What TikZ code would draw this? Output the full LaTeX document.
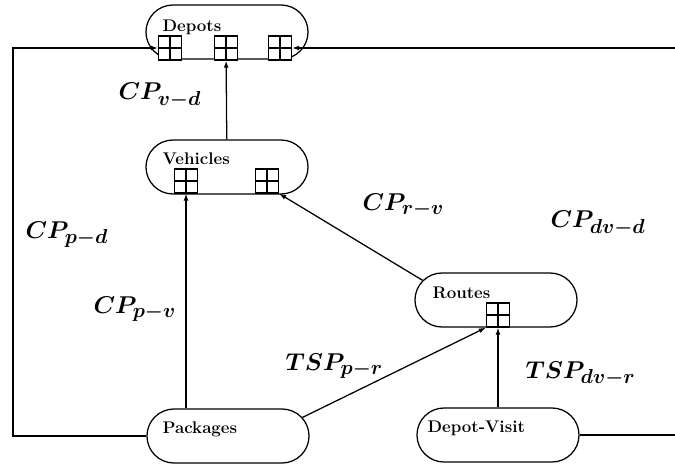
\documentclass[tikz,border=0pt]{standalone}
\usetikzlibrary{arrows.meta, positioning, calc, shapes.misc}
\begin{document}
\begin{tikzpicture}[x=0.025cm, y=-0.025cm, line width=0.9pt, >={Latex[length=5pt,width=3.5pt]},
  entity/.style={rounded rectangle, draw, minimum width=4.05cm, minimum height=1.35cm, inner sep=0pt},
  ename/.style={anchor=base west, inner sep=0pt, font=\fontsize{12}{14}\selectfont\bfseries},
  cell/.style={draw, fill=white, minimum width=0.575cm, minimum height=0.6cm, inner sep=0pt,
    path picture={\draw (path picture bounding box.north) -- (path picture bounding box.south)
      (path picture bounding box.west) -- (path picture bounding box.east);}},
  rel/.style={anchor=base west, inner sep=0pt, font=\fontsize{19}{23}\selectfont\boldmath}]
\useasboundingbox (0,0) rectangle (675,465);
\node[entity] (dep) at (227,32) {};
\node[entity] (veh) at (227,167) {};
\node[entity] (rou) at (496,300) {};
\node[entity] (pac) at (228,436) {};
\node[entity] (dvi) at (498,435) {};
\node[ename] at ($(dep.center)+(-65,0)$) {Depots};
\node[ename] at ($(veh.center)+(-65,-2)$) {Vehicles};
\node[ename] at ($(rou.center)+(-64,-2)$) {Routes};
\node[ename] at ($(pac.center)+(-66,-3)$) {Packages};
\node[ename] at ($(dvi.center)+(-71,-3)$) {Depot-Visit};
\node[cell] (db1) at (170,48) {};
\node[cell] (db2) at (226,48) {};
\node[cell] (db3) at (280,48) {};
\node[cell] (vb1) at (186,181) {};
\node[cell] (vb2) at (267,181) {};
\node[cell] (rb) at (498,315) {};
\coordinate (lft) at (13,48);
\coordinate (rgt) at (690,48);
\draw[->] (veh) -- (db2);
\draw[->] (vb1 |- pac.north) -- (vb1);
\draw[->] (rou.165) -- (vb2.south east);
\draw[->] (pac.14) -- (rb.south west);
\draw[->] (dvi) -- (rb.south);
\draw[->] (pac.west) -| (lft) -- (db1.west);
\draw[->] (dvi.east) -| (rgt) -- (db3.east);
\node[rel] (lvd) at (118,100) {$CP_{v-d}$};
\node[rel] (lpd) at (25,238) {$CP_{p-d}$};
\node[rel] (lpv) at (93,313) {$CP_{p-v}$};
\node[rel] (lrv) at (362,210) {$CP_{r-v}$};
\node[rel] (ldvd) at (550,228) {$CP_{dv-d}$};
\node[rel] (lpr) at (285,370) {$TSP_{p-r}$};
\node[rel] (ldvr) at (525,378) {$TSP_{dv-r}$};
\end{tikzpicture}
\end{document}
